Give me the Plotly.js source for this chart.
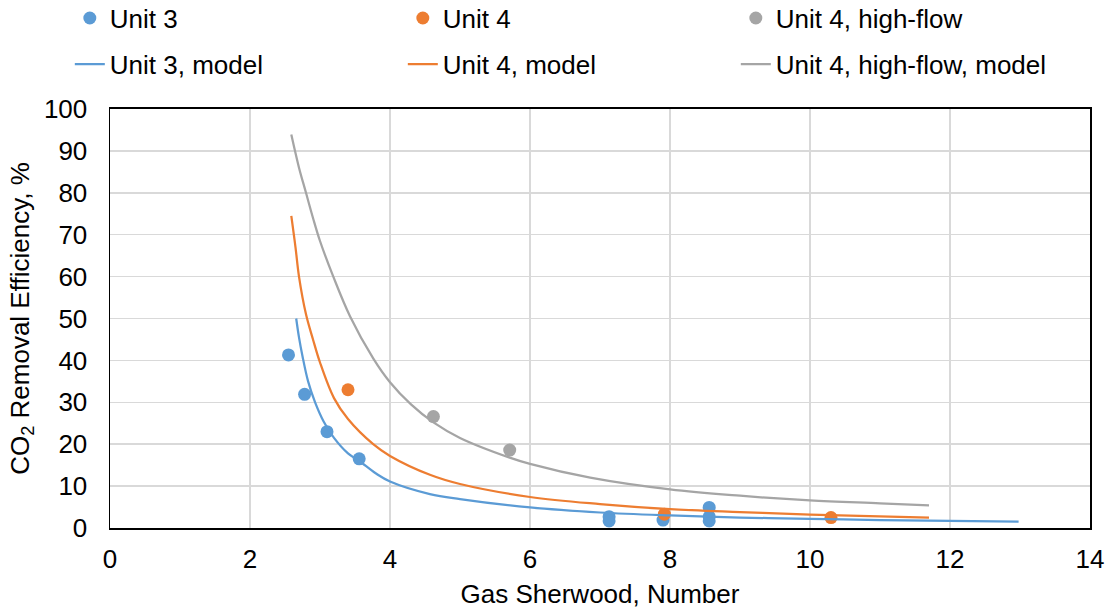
<!DOCTYPE html>
<html>
<head>
<meta charset="utf-8">
<script src="https://cdn.plot.ly/plotly-3.0.1.min.js"></script>
<style>html,body{margin:0;padding:0;background:#fff;}#chart{width:1107px;height:609px;}</style>
</head>
<body>
<div id="chart"></div>
<script>
// Measured data
const unit3X = [2.55, 2.78, 3.10, 3.56, 7.13, 7.13, 7.90, 8.56, 8.56, 8.56];
const unit3Y = [41.3, 31.9, 23.0, 16.5, 2.7, 1.7, 1.9, 4.9, 2.7, 1.7];
const unit4X = [3.40, 7.92, 10.30];
const unit4Y = [33.0, 3.3, 2.5];
const unit4HfX = [4.62, 5.71];
const unit4HfY = [26.6, 18.6];

const unit3ModelX = [2.66, 2.70, 2.75, 2.83, 2.93, 3.05, 3.20, 3.40, 3.56, 3.80, 4.00, 4.57, 5.00, 6.00, 7.00, 8.00, 9.00, 10.0, 11.0, 12.0, 12.98];
const unit3ModelY = [50.0, 45.5, 41.0, 35.0, 30.0, 25.5, 21.5, 17.8, 16.0, 13.0, 11.1, 8.1, 6.9, 4.9, 3.7, 3.0, 2.5, 2.2, 1.9, 1.7, 1.5];
const unit4ModelX = [2.59, 2.65, 2.70, 2.80, 2.90, 3.00, 3.20, 3.40, 3.76, 4.00, 4.57, 5.00, 6.00, 7.00, 8.00, 9.00, 10.0, 11.7];
const unit4ModelY = [74.5, 67.0, 60.0, 51.0, 45.0, 39.5, 31.0, 26.0, 20.0, 17.2, 12.7, 10.5, 7.4, 5.7, 4.5, 3.8, 3.2, 2.5];
const unit4HfModelX = [2.59, 2.70, 2.80, 2.90, 3.00, 3.19, 3.43, 3.76, 4.00, 4.30, 4.62, 5.00, 5.71, 6.00, 6.86, 8.00, 9.00, 10.0, 11.0, 11.7];
const unit4HfModelY = [93.9, 86.0, 80.0, 74.0, 68.5, 60.0, 50.5, 40.5, 34.8, 29.5, 25.2, 21.5, 16.8, 15.3, 12.0, 9.2, 7.7, 6.6, 5.9, 5.4];

const xTicks = [0, 2, 4, 6, 8, 10, 12, 14];
const yTicks = [0, 10, 20, 30, 40, 50, 60, 70, 80, 90, 100];

const BLUE = '#5B9BD5', ORANGE = '#ED7D31', GRAY = '#A5A5A5';
const FONT = 'Liberation Sans, Arial, sans-serif';
const FS = 26;

const lineStyle = c => ({color: c, width: 2.25, shape: 'spline', smoothing: 1.0});

const traces = [
  {x: unit3X, y: unit3Y, name: 'Unit 3', mode: 'markers', type: 'scatter', marker: {color: BLUE, size: 13}, legend: 'legend'},
  {x: unit4X, y: unit4Y, name: 'Unit 4', mode: 'markers', type: 'scatter', marker: {color: ORANGE, size: 13}, legend: 'legend'},
  {x: unit4HfX, y: unit4HfY, name: 'Unit 4, high-flow', mode: 'markers', type: 'scatter', marker: {color: GRAY, size: 13}, legend: 'legend'},
  {x: unit3ModelX, y: unit3ModelY, name: 'Unit 3, model', mode: 'lines', type: 'scatter', line: lineStyle(BLUE), legend: 'legend2'},
  {x: unit4ModelX, y: unit4ModelY, name: 'Unit 4, model', mode: 'lines', type: 'scatter', line: lineStyle(ORANGE), legend: 'legend2'},
  {x: unit4HfModelX, y: unit4HfModelY, name: 'Unit 4, high-flow, model', mode: 'lines', type: 'scatter', line: lineStyle(GRAY), legend: 'legend2'}
];

const legendCommon = {
  orientation: 'h', xanchor: 'left', yanchor: 'middle',
  entrywidth: 288, entrywidthmode: 'pixels',
  font: {family: FONT, size: FS, color: '#000'},
  bgcolor: 'rgba(0,0,0,0)', borderwidth: 0
};

const layout = {
  width: 1107, height: 609,
  margin: {l: 110, r: 17, t: 109, b: 81, autoexpand: false},
  paper_bgcolor: '#fff', plot_bgcolor: '#fff',
  font: {family: FONT, size: FS, color: '#000'},
  showlegend: true,
  legend: Object.assign({}, legendCommon, {x: -0.041, y: 1.217}),
  legend2: Object.assign({}, legendCommon, {x: -0.041, y: 1.107}),
  xaxis: {
    range: [0, 14], tickvals: xTicks, ticktext: xTicks.map(String),
    showgrid: true, gridcolor: '#D9D9D9', gridwidth: 1.5,
    zeroline: false, showline: true, linecolor: '#000', linewidth: 2, mirror: true,
    ticks: '', ticklabelstandoff: 7,
    tickfont: {family: FONT, size: FS, color: '#000'},
    title: {text: 'Gas Sherwood, Number', font: {family: FONT, size: FS, color: '#000'}, standoff: 18}
  },
  yaxis: {
    range: [0, 100], tickvals: yTicks, ticktext: yTicks.map(String),
    showgrid: true, gridcolor: '#D9D9D9', gridwidth: 1.5,
    zeroline: false, showline: true, linecolor: '#000', linewidth: 1.5, mirror: true,
    ticks: '', ticklabelstandoff: 16,
    tickfont: {family: FONT, size: FS, color: '#000'},
    title: {text: 'CO<sub>2</sub> Removal Efficiency, %', font: {family: FONT, size: FS, color: '#000'}, standoff: 7}
  }
};

Plotly.newPlot('chart', traces, layout, {staticPlot: true, displayModeBar: false});
</script>
</body>
</html>
